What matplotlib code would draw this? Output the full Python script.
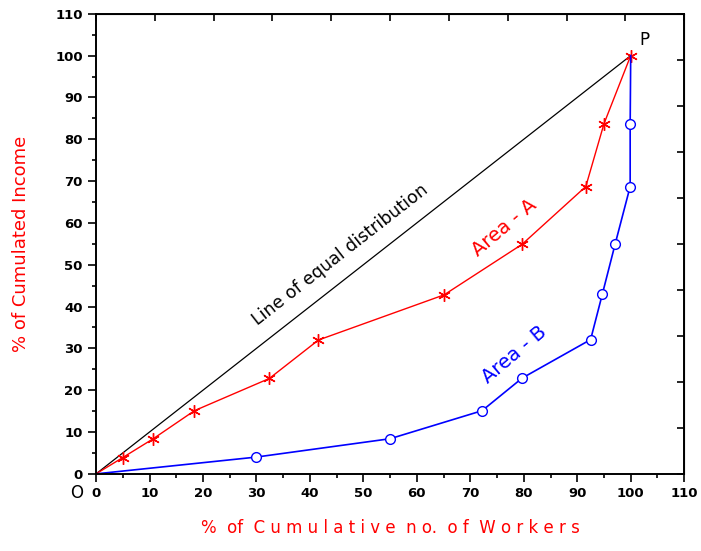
import numpy as np
import matplotlib
matplotlib.use('Agg')
import matplotlib.pyplot as plt

# Lorenz curves
area_a_x = [0, 5, 10.7, 18.4, 32.4, 41.6, 65.1, 79.7, 91.6, 95, 100]
area_a_y = [0, 3.9, 8.4, 15.1, 22.8, 32, 42.8, 54.9, 68.7, 83.7, 100]
area_b_x = [0, 29.9, 55, 72.2, 79.7, 92.5, 94.7, 97.1, 99.9, 99.9, 100]
area_b_y = [0, 4, 8.4, 15.1, 22.9, 32.1, 43, 55, 68.7, 83.7, 100]
equal_x = [0, 100]
equal_y = [0, 100]

fig = plt.figure(figsize=(7.01, 5.51), dpi=100)
ax = fig.add_axes([0.137, 0.140, 0.839, 0.835])

ax.plot(equal_x, equal_y, color='black', lw=0.9)
ax.plot(area_a_x, area_a_y, color='red', lw=1.0)
ax.plot(area_a_x[1:], area_a_y[1:], ls='none', color='red',
        marker=(6, 2, 0), ms=9, mew=1.0)
ax.plot(area_b_x, area_b_y, color='blue', lw=1.2)
ax.plot(area_b_x[1:-1], area_b_y[1:-1], ls='none', marker='o', ms=7,
        mfc='white', mec='blue', mew=1.0)

ax.set_xlim(0, 110)
ax.set_ylim(0, 110)
ax.set_xticks(np.arange(0, 111, 10))
ax.set_yticks(np.arange(0, 111, 10))
ax.set_xticks(np.arange(0, 111, 5), minor=True)
ax.set_yticks(np.arange(0, 111, 5), minor=True)
ax.tick_params(which='major', direction='out', length=6, width=1.2,
               labelsize=9.5)
ax.tick_params(which='minor', direction='out', length=3, width=1.2)
for lab in ax.get_xticklabels() + ax.get_yticklabels():
    lab.set_fontweight('bold')
for s in ax.spines.values():
    s.set_linewidth(1.4)

top = ax.secondary_xaxis('top')
top.set_xticks(np.arange(0, 111, 11))
top.tick_params(direction='in', length=5, width=1.2, labeltop=False)
right = ax.secondary_yaxis('right')
right.set_yticks(np.arange(0, 111, 11))
right.tick_params(direction='in', length=5, width=1.2, labelright=False)

ax.set_xlabel('%  of  C u m u l a t i v e  n o.  o f  W o r k e r s',
              color='red', fontsize=12, labelpad=14)
ax.set_ylabel('% of Cumulated Income', color='red', fontsize=13, labelpad=18)

ax.text(45.6, 52.4, 'Line of equal distribution', rotation=38,
        ha='center', va='center', fontsize=12.5)
ax.text(76.3, 58.9, 'Area - A', rotation=40, ha='center', va='center',
        fontsize=14, color='red')
ax.text(78.3, 28.5, 'Area - B', rotation=40, ha='center', va='center',
        fontsize=14, color='blue')
ax.text(102.6, 103.8, 'P', ha='center', va='center', fontsize=12)
ax.text(-3.7, -4.5, 'O', ha='center', va='center', fontsize=12,
        clip_on=False)

fig.savefig('out.png', dpi=100)
